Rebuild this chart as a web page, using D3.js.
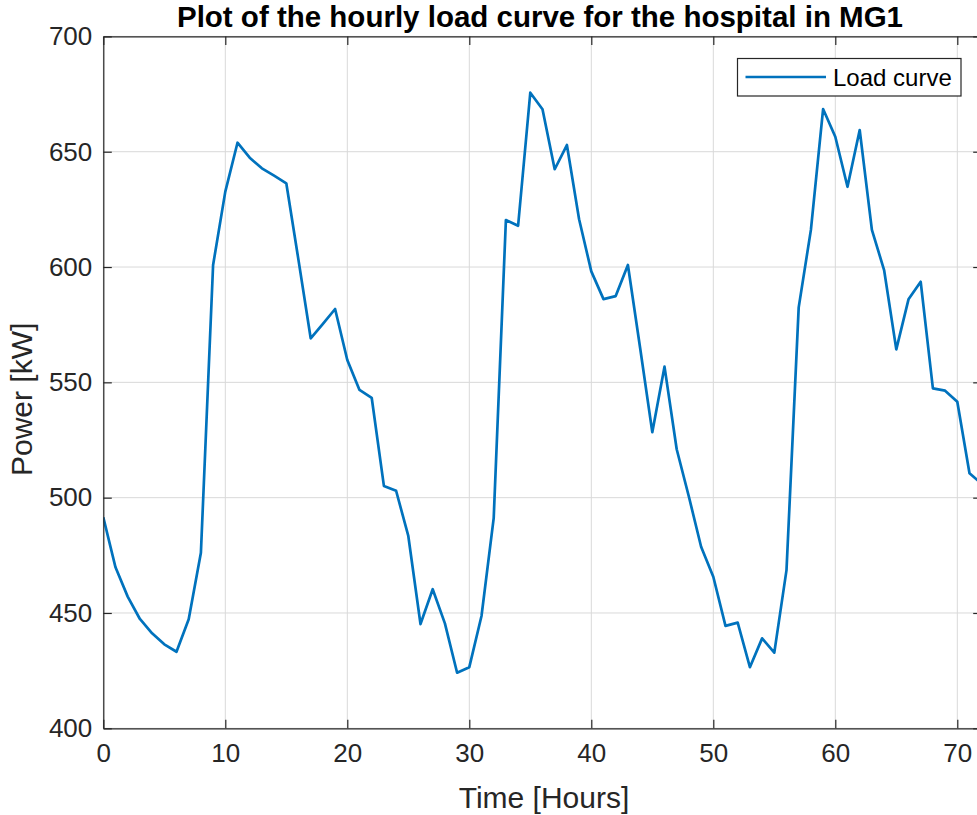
<!DOCTYPE html>
<html>
<head>
<meta charset="utf-8">
<script src="https://cdn.jsdelivr.net/npm/d3@7"></script>
<style>
  html, body { margin: 0; padding: 0; background: #fff; }
  svg { display: block; font-family: "Liberation Sans", Arial, Helvetica, sans-serif; }
</style>
</head>
<body>
<svg id="chart" width="977" height="815"></svg>
<script>
// Hourly load of the hospital in MG1 (kW), hours 0..72
const hours = d3.range(0, 73);
const loadKW = [
  491.5, 469.8, 457.1, 447.4, 441.2, 436.4, 433.2, 447.3, 476.1, 600.9,
  632.7, 653.9, 647.4, 642.8, 639.6, 636.3, 603.0, 569.1, 575.4, 581.8,
  559.7, 546.7, 543.3, 505.1, 503.0, 483.4, 445.2, 460.3, 445.5, 424.1,
  426.5, 448.7, 491.1, 620.4, 617.9, 675.6, 668.4, 642.4, 652.9, 620.7,
  598.1, 586.1, 587.4, 600.9, 565.0, 528.4, 556.8, 521.0, 500.4, 478.7,
  465.7, 444.4, 445.8, 426.5, 439.0, 432.8, 468.6, 582.5, 616.1, 668.5,
  656.5, 634.8, 659.4, 616.1, 598.7, 564.3, 586.0, 593.6, 547.4, 546.4,
  541.6, 510.6, 506.0
];
const xTicks = [0, 10, 20, 30, 40, 50, 60, 70];
const yTicks = [400, 450, 500, 550, 600, 650, 700];
const titleText = "Plot of the hourly load curve for the hospital in MG1";
const xLabel = "Time [Hours]";
const yLabel = "Power [kW]";
const legendLabel = "Load curve";

const svg = d3.select("#chart");
const plotL = 103.3, plotR = 981.7, plotT = 36.4, plotB = 728.3;
const axisColor = "#262626";
const lineColor = "#0072BD";
const fontFam = "'Liberation Sans', Arial, Helvetica, sans-serif";

const x = d3.scaleLinear().domain([0, 72]).range([plotL, plotR]);
const y = d3.scaleLinear().domain([400, 700]).range([plotB, plotT]);

// grid
const grid = svg.append("g").attr("stroke", "#d9d9d9").attr("stroke-width", 1);
grid.selectAll("line.gx").data(xTicks).join("line")
  .attr("x1", d => x(d)).attr("x2", d => x(d))
  .attr("y1", plotT).attr("y2", plotB);
grid.selectAll("line.gy").data(yTicks).join("line")
  .attr("x1", plotL).attr("x2", plotR)
  .attr("y1", d => y(d)).attr("y2", d => y(d));

// data line
svg.append("defs").append("clipPath").attr("id", "plotClip")
  .append("rect").attr("x", plotL).attr("y", plotT)
  .attr("width", plotR - plotL).attr("height", plotB - plotT);

const line = d3.line().x((d, i) => x(hours[i])).y(d => y(d));
svg.append("path")
  .datum(loadKW)
  .attr("clip-path", "url(#plotClip)")
  .attr("fill", "none")
  .attr("stroke", lineColor)
  .attr("stroke-width", 2.7)
  .attr("stroke-linejoin", "round")
  .attr("d", line);

// axes with inward ticks
const tickLen = 8.5;
const fmt = d3.format("d");
const xAxisB = d3.axisBottom(x).tickValues(xTicks).tickFormat(fmt)
  .tickSizeInner(-tickLen).tickSizeOuter(0).tickPadding(15);
const xAxisT = d3.axisTop(x).tickValues(xTicks).tickFormat("")
  .tickSizeInner(-tickLen).tickSizeOuter(0);
const yAxisL = d3.axisLeft(y).tickValues(yTicks).tickFormat(fmt)
  .tickSizeInner(-tickLen).tickSizeOuter(0).tickPadding(11);
const yAxisR = d3.axisRight(y).tickValues(yTicks).tickFormat("")
  .tickSizeInner(-tickLen).tickSizeOuter(0);

function styleAxis(g) {
  g.selectAll("path.domain").attr("stroke", axisColor).attr("stroke-width", 1.2);
  g.selectAll(".tick line").attr("stroke", axisColor).attr("stroke-width", 1.2);
  g.selectAll(".tick text").attr("fill", axisColor)
    .style("font-size", "26px")
    .style("font-family", fontFam);
}
svg.append("g").attr("transform", `translate(0,${plotB})`).call(xAxisB).call(styleAxis);
svg.append("g").attr("transform", `translate(0,${plotT})`).call(xAxisT).call(styleAxis);
svg.append("g").attr("transform", `translate(${plotL},0)`).call(yAxisL).call(styleAxis);
svg.append("g").attr("transform", `translate(${plotR},0)`).call(yAxisR).call(styleAxis);

// title and axis labels
svg.append("text")
  .attr("x", 540).attr("y", 27)
  .attr("text-anchor", "middle")
  .attr("fill", "#000")
  .style("font-size", "29.5px").style("font-weight", "bold")
  .text(titleText);

svg.append("text")
  .attr("x", 544).attr("y", 808)
  .attr("text-anchor", "middle")
  .attr("fill", axisColor)
  .style("font-size", "30px")
  .text(xLabel);

svg.append("text")
  .attr("transform", `translate(32,${(plotT + plotB) / 2 + 17}) rotate(-90)`)
  .attr("text-anchor", "middle")
  .attr("fill", axisColor)
  .style("font-size", "30px")
  .text(yLabel);

// legend
const lg = svg.append("g");
lg.append("rect")
  .attr("x", 737.5).attr("y", 58.5).attr("width", 223.5).attr("height", 37.5)
  .attr("fill", "#fff").attr("stroke", axisColor).attr("stroke-width", 1.2);
lg.append("line")
  .attr("x1", 745.5).attr("x2", 826).attr("y1", 77).attr("y2", 77)
  .attr("stroke", lineColor).attr("stroke-width", 2.7);
lg.append("text")
  .attr("x", 833).attr("y", 86)
  .attr("fill", "#000")
  .style("font-size", "24px")
  .text(legendLabel);
</script>
</body>
</html>
